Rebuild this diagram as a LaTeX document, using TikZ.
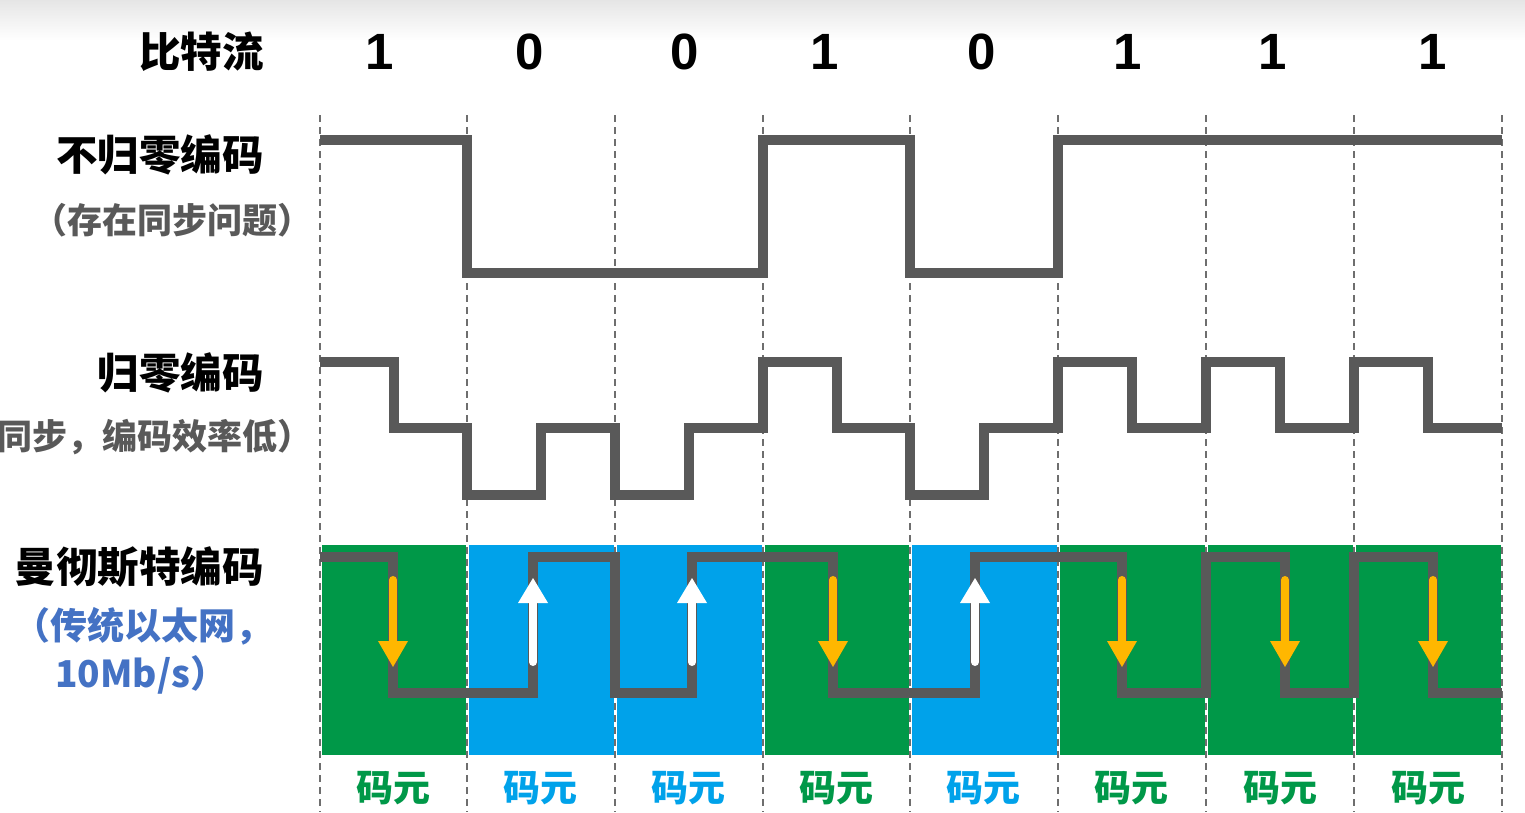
\documentclass[tikz,border=0pt]{standalone}
\usepackage{fontspec}
\setmainfont{Liberation Sans}
\newfontfamily\cjk{Noto Sans CJK SC}
\definecolor{sigc}{RGB}{89,89,89}
\definecolor{mgreen}{RGB}{0,152,72}
\definecolor{mblue}{RGB}{0,162,234}
\definecolor{morange}{RGB}{255,183,0}
\definecolor{tblue}{RGB}{68,114,196}
\definecolor{tgray}{RGB}{89,89,89}
\definecolor{dashc}{RGB}{110,110,110}
\begin{document}
\begin{tikzpicture}[x=1pt,y=-1pt,
  sig/.style={line width=10pt,draw=sigc,line join=miter,line cap=butt},
  cellsep/.style={draw=dashc,line width=1.5pt,dash pattern=on 7pt off 5pt},
  mainlbl/.style={font=\cjk\bfseries\fontsize{41.5}{48}\selectfont,anchor=east,inner sep=0pt,text=black},
  sublbl/.style={font=\cjk\bfseries\fontsize{35}{42}\selectfont,anchor=east,inner sep=0pt,text=tgray},
  bluelbl/.style={font=\cjk\bfseries\fontsize{37}{44}\selectfont,inner sep=0pt,text=tblue},
  bitlbl/.style={font=\bfseries\fontsize{51}{60}\selectfont,inner sep=0pt,text=black},
  cellname/.style={font=\cjk\bfseries\fontsize{37}{44}\selectfont,inner sep=0pt},
  darr/.pic={
    \draw[line width=8pt,draw=morange,line cap=round] (0,580) -- (0,646);
    \fill[morange] (-15,641) -- (15,641) -- (0,667) -- cycle;
  },
  uarr/.pic={
    \draw[line width=8pt,draw=white,line cap=round] (0,662) -- (0,598);
    \fill[white] (-15,603) -- (15,603) -- (0,578) -- cycle;
  }
]
\useasboundingbox (0,0) rectangle (1525,812);
\fill[white] (0,0) rectangle (1525,812);
\shade[top color=black!10,bottom color=white] (0,0) rectangle (1525,40);

% Manchester cell backgrounds
\foreach \xa/\xb/\c in {320/467/mgreen,467/615/mblue,615/763/mblue,763/910/mgreen,910/1058/mblue,1058/1206/mgreen,1206/1354/mgreen,1354/1502/mgreen}{
  \fill[\c] (\xa+1.5,545) rectangle (\xb-1.5,755);
}

% dashed separators
\foreach \x in {320,467,615,763,910,1058,1206,1354,1502}{
  \draw[cellsep] (\x,115) -- (\x,812);
}

% bit stream
\node[mainlbl] (lbits) at (264,52) {比特流};
\foreach \x/\b [count=\i] in {380/1,530/0,685/0,825/1,982/0,1128/1,1273/1,1433/1}{
  \node[bitlbl] (bit\i) at (\x,52) {\b};
}

% NRZ
\node[mainlbl] (lnrz) at (264,155) {不归零编码};
\node[sublbl] (snrz) at (313,220) {（存在同步问题）};
\draw[sig] (320,140) -- (467,140) -- (467,273) -- (763,273) -- (763,140) -- (910,140) -- (910,273) -- (1058,273) -- (1058,140) -- (1502,140);

% RZ
\node[mainlbl] (lrz) at (264,373) {归零编码};
\node[sublbl] (srz) at (313,437) {（自同步，编码效率低）};
\draw[sig] (320,362) -- (394,362) -- (394,428) -- (467,428) -- (467,495) -- (541,495) -- (541,428) -- (615,428) -- (615,495) -- (689,495) -- (689,428) -- (763,428) -- (763,362) -- (837,362) -- (837,428) -- (910,428) -- (910,495) -- (984,495) -- (984,428) -- (1058,428) -- (1058,362) -- (1132,362) -- (1132,428) -- (1206,428) -- (1206,362) -- (1280,362) -- (1280,428) -- (1354,428) -- (1354,362) -- (1428,362) -- (1428,428) -- (1502,428);

% Manchester
\node[mainlbl] (lman) at (264,567) {曼彻斯特编码};
\node[bluelbl,anchor=west] (sman1) at (13,626) {（传统以太网，};
\node[bluelbl,anchor=west] (sman2) at (55,675) {10Mb/s）};
\draw[sig] (320,557) -- (393,557) -- (393,693) -- (533,693) -- (533,557) -- (615,557) -- (615,693) -- (692,693) -- (692,557) -- (833,557) -- (833,693) -- (975,693) -- (975,557) -- (1122,557) -- (1122,693) -- (1206,693) -- (1206,557) -- (1285,557) -- (1285,693) -- (1354,693) -- (1354,557) -- (1433,557) -- (1433,693) -- (1502,693);

\pic at (393,0) {darr};
\pic at (533,0) {uarr};
\pic at (692,0) {uarr};
\pic at (833,0) {darr};
\pic at (975,0) {uarr};
\pic at (1122,0) {darr};
\pic at (1285,0) {darr};
\pic at (1433,0) {darr};

% cell names
\foreach \x/\c [count=\i] in {393/mgreen,540/mblue,688/mblue,836/mgreen,983/mblue,1131/mgreen,1280/mgreen,1428/mgreen}{
  \node[cellname,text=\c] (cell\i) at (\x,788) {码元};
}
\end{tikzpicture}
\end{document}
